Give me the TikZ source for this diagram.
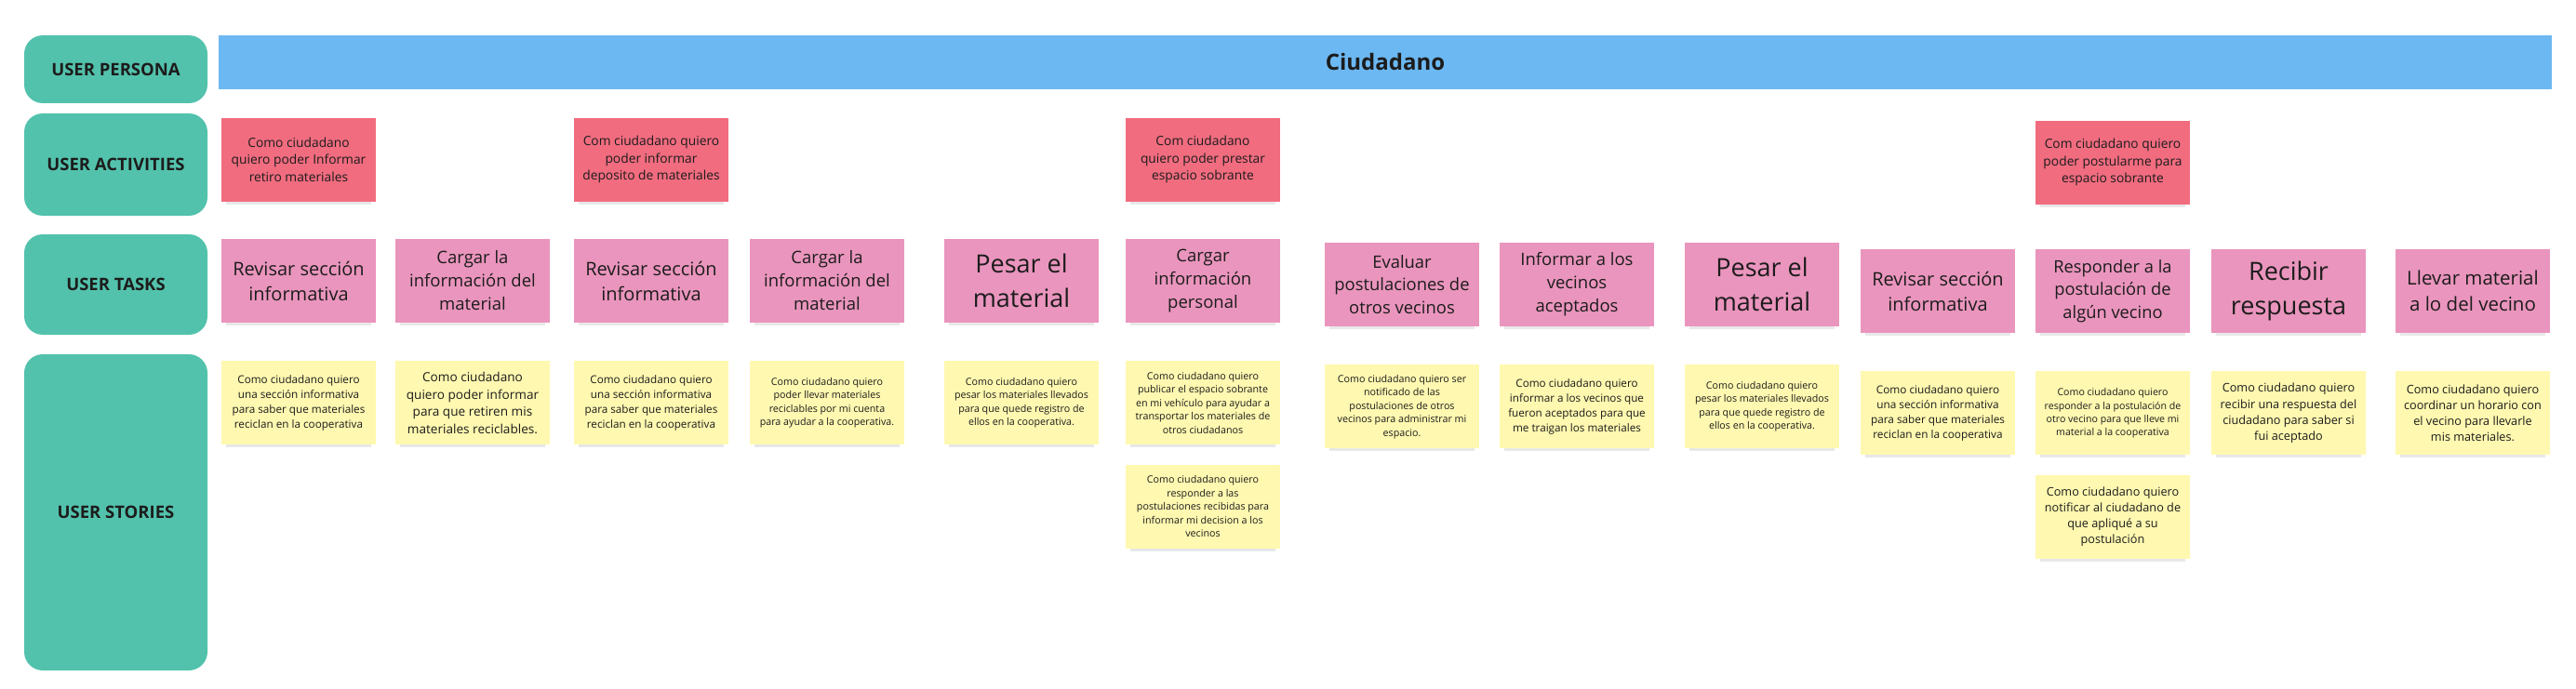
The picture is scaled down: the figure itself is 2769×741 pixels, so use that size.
\documentclass[tikz,border=0pt]{standalone}
\usepackage{fontspec}
\setmainfont{Open Sans}
\usepackage{tikz}
\usetikzlibrary{positioning,shadows}
\usepackage{xcolor}
\definecolor{mapteal}{HTML}{53C2AC}
\definecolor{mapblue}{HTML}{6CB8F2}
\definecolor{mapred}{HTML}{F16C7F}
\definecolor{mappink}{HTML}{EA95BD}
\definecolor{mapyellow}{HTML}{FFF8B0}
\definecolor{mapink}{HTML}{1C1C1C}
\tikzset{
  fs/.style={
    font=\fontsize{#1}{\dimexpr #1pt*135/100\relax}\selectfont
  },
  rowlabel/.style={
    rounded corners=20pt,
    fill=mapteal,
    minimum width=197pt,
    inner sep=0pt,
    align=center,
    text=mapink,
    font=\fontsize{18.5}{22}\selectfont\bfseries
  },
  personabar/.style={
    fill=mapblue,
    minimum width=2508pt,
    minimum height=58pt,
    inner sep=0pt,
    text=mapink,
    font=\fontsize{24}{28}\selectfont\bfseries
  },
  sticky/.style={
    minimum width=166pt,
    minimum height=90pt,
    inner sep=0pt,
    align=center,
    text=mapink,
    drop shadow={shadow xshift=0pt,shadow yshift=-6pt,shadow scale=0.94,opacity=0.18}
  },
  actnote/.style={sticky, fill=mapred, fs=13.8},
  tasknote/.style={sticky, fill=mappink, fs=18.5},
  storynote/.style={sticky, fill=mapyellow, fs=10.7}
}

\begin{document}
\begin{tikzpicture}[x=1pt,y=-1pt,node distance=41pt]
\fill[white] (0,0) rectangle (2769,741);
\useasboundingbox (0,0) rectangle (2769,741);

\node[rowlabel, minimum height=73pt] (lblpersona) at (124.5,74.5) {USER PERSONA};
\node[rowlabel, minimum height=110pt] (lblactivities) at (124.5,177) {USER ACTIVITIES};
\node[rowlabel, minimum height=108pt] (lbltasks) at (124.5,306) {USER TASKS};
\node[rowlabel, minimum height=340pt] (lblstories) at (124.5,551) {USER STORIES};

\node[personabar] (persona) at (1489,67) {Ciudadano};

\node[tasknote, fs=20] (task1) at (321,302) {Revisar sección\\informativa};
\node[tasknote] (task2) at (508,302) {Cargar la\\información del\\material};
\node[tasknote, fs=20] (task3) at (700,302) {Revisar sección\\informativa};
\node[tasknote] (task4) at (889,302) {Cargar la\\información del\\material};
\node[tasknote, fs=27] (task5) at (1098,302) {Pesar el\\material};
\node[tasknote] (task6) at (1293,302) {Cargar\\información\\personal};
\node[tasknote, fs=18.4] (task7) at (1507,306) {Evaluar\\postulaciones de\\otros vecinos};
\node[tasknote] (task8) at (1695,306) {Informar a los\\vecinos\\aceptados};
\node[tasknote, fs=27] (task9) at (1894,306) {Pesar el\\material};
\node[tasknote, fs=20] (task10) at (2083,313) {Revisar sección\\informativa};
\node[tasknote, fs=18.3] (task11) at (2271,313) {Responder a la\\postulación de\\algún vecino};
\node[tasknote, fs=27] (task12) at (2460,313) {Recibir\\respuesta};
\node[tasknote, fs=20.5] (task13) at (2658,313) {Llevar material\\a lo del vecino};

\node[actnote, above=40pt of task1] (act1) {Como ciudadano\\quiero poder Informar\\retiro materiales};
\node[actnote, above=40pt of task3] (act2) {Com ciudadano quiero\\poder informar\\deposito de materiales};
\node[actnote, above=40pt of task6] (act3) {Com ciudadano\\quiero poder prestar\\espacio sobrante};
\node[actnote, above=48pt of task11] (act4) {Com ciudadano quiero\\poder postularme para\\espacio sobrante};

\node[storynote, fs=11.7, below=of task1] (story1) {Como ciudadano quiero\\una sección informativa\\para saber que materiales\\reciclan en la cooperativa};
\node[storynote, fs=13.6, below=of task2] (story2) {Como ciudadano\\quiero poder informar\\para que retiren mis\\materiales reciclables.};
\node[storynote, fs=11.7, below=of task3] (story3) {Como ciudadano quiero\\una sección informativa\\para saber que materiales\\reciclan en la cooperativa};
\node[storynote, below=of task4] (story4) {Como ciudadano quiero\\poder llevar materiales\\reciclables por mi cuenta\\para ayudar a la cooperativa.};
\node[storynote, below=of task5] (story5) {Como ciudadano quiero\\pesar los materiales llevados\\para que quede registro de\\ellos en la cooperativa.};
\node[storynote, below=of task6] (story6) {Como ciudadano quiero\\publicar el espacio sobrante\\en mi vehículo para ayudar a\\transportar los materiales de\\otros ciudadanos};
\node[storynote, below=21pt of story6] (story6b) {Como ciudadano quiero\\responder a las\\postulaciones recibidas para\\informar mi decision a los\\vecinos};
\node[storynote, below=of task7] (story7) {Como ciudadano quiero ser\\notificado de las\\postulaciones de otros\\vecinos para administrar mi\\espacio.};
\node[storynote, fs=11.7, below=of task8] (story8) {Como ciudadano quiero\\informar a los vecinos que\\fueron aceptados para que\\me traigan los materiales};
\node[storynote, below=of task9] (story9) {Como ciudadano quiero\\pesar los materiales llevados\\para que quede registro de\\ellos en la cooperativa.};
\node[storynote, fs=11.8, below=of task10] (story10) {Como ciudadano quiero\\una sección informativa\\para saber que materiales\\reciclan en la cooperativa};
\node[storynote, fs=10.6, below=of task11] (story11) {Como ciudadano quiero\\responder a la postulación de\\otro vecino para que lleve mi\\material a la cooperativa};
\node[storynote, fs=12.7, below=21pt of story11] (story11b) {Como ciudadano quiero\\notificar al ciudadano de\\que apliqué a su\\postulación};
\node[storynote, fs=12.7, below=of task12] (story12) {Como ciudadano quiero\\recibir una respuesta del\\ciudadano para saber si\\fui aceptado};
\node[storynote, fs=12.7, below=of task13] (story13) {Como ciudadano quiero\\coordinar un horario con\\el vecino para llevarle\\mis materiales.};
\end{tikzpicture}
\end{document}
